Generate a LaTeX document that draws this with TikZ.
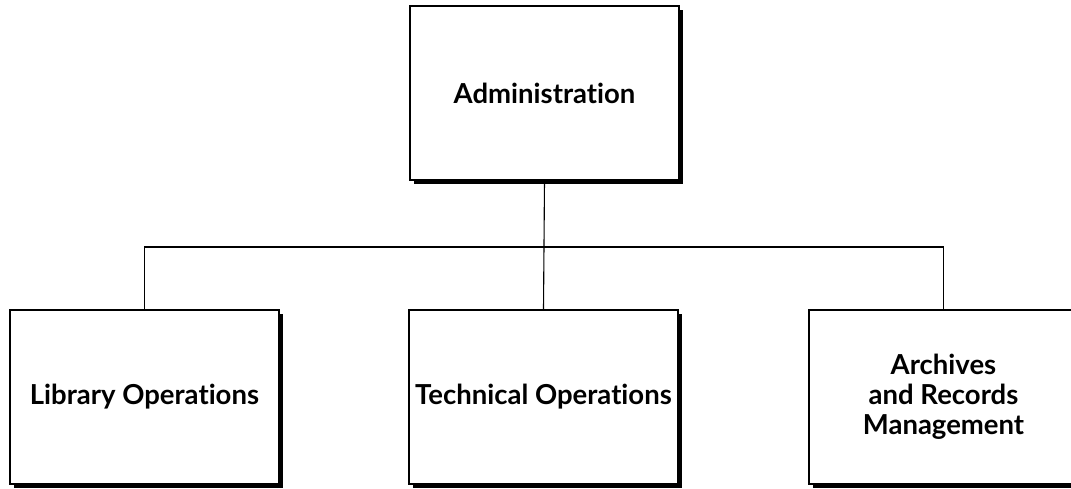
\documentclass[tikz,border=0pt]{standalone}
\usepackage{fontspec}
\setmainfont{Lato}[Ligatures=NoCommon]
\usetikzlibrary{positioning, shadows}

\begin{document}
\begin{tikzpicture}[x=1pt, y=-1pt,
        unit/.style={draw=black, line width=1.4pt, fill=white, minimum width=269pt,
          minimum height=174pt, inner sep=2pt, align=center,
          font=\fontsize{27.5}{30}\selectfont\bfseries,
          drop shadow={shadow xshift=4pt, shadow yshift=-4pt, fill=black, opacity=1}},
        link/.style={line width=1.1pt}]
        \useasboundingbox (0,0) rectangle (1071,489);
        \node[unit] (adm)  at (544.5,93)  {Administration};
        \node[unit] (lib)  at (144.5,397) {Library Operations};
        \node[unit] (tech) at (543.5,397) {Technical Operations};
        \node[unit] (arc)  at (943.5,397) {Archives\\and Records\\Management};
        \coordinate (bus) at (544.5,247);
        \draw[link] (adm.south) -- (tech.north);
        \draw[link] (lib.north) -- (lib.north |- bus) -- (arc.north |- bus) -- (arc.north);
      \end{tikzpicture}
\end{document}
